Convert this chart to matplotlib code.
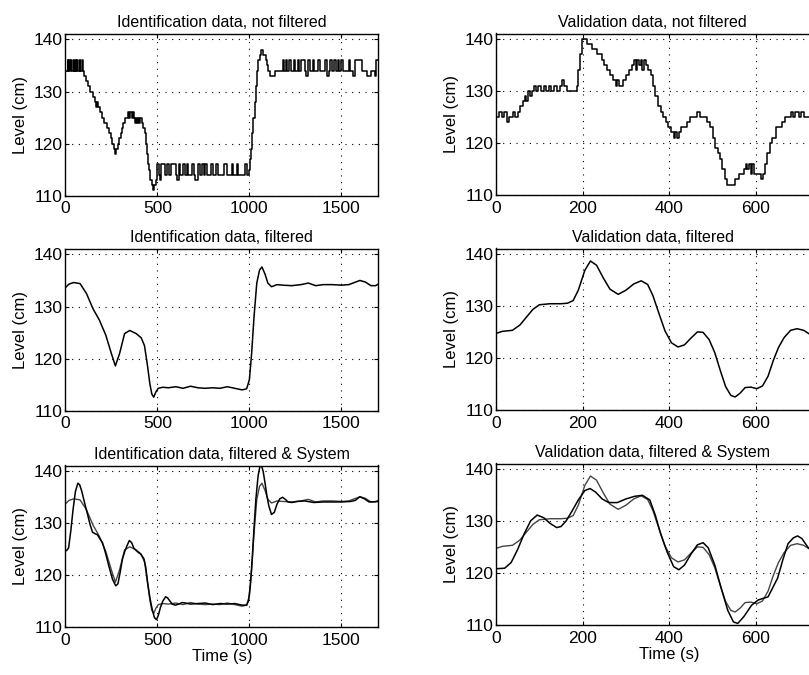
import numpy as np
import matplotlib
matplotlib.use('Agg')
import matplotlib.pyplot as plt

plt.rcParams['font.family'] = ['Liberation Sans', 'DejaVu Sans']

# --- Identification data, not filtered (quantised level, step breakpoints) ---
id_raw_t = [0, 12, 16, 22, 26, 33, 38, 45, 49, 56, 60, 66, 70, 78, 82, 90, 98,
            104, 112, 122, 135, 148, 160, 166, 172, 178, 190, 200, 212, 226, 238, 248,
            256, 263, 268, 276, 284, 292, 300, 308, 316, 326, 340, 346, 352, 360, 366,
            372, 380, 384, 390, 396, 402, 408, 414, 424, 432, 438, 444, 450, 456, 462,
            470, 476, 484, 490, 496,
            500, 510, 515, 520, 522, 540, 555, 562, 575, 600, 606, 615, 625, 640, 650,
            660, 668, 690, 700, 706, 720, 732, 745, 752, 760, 770, 790, 800, 820, 830,
            860, 880, 905, 912, 930, 940, 975, 985,
            998, 1004, 1010, 1016, 1022, 1028, 1034, 1040, 1048, 1056, 1064, 1076, 1088,
            1096, 1102, 1110, 1140, 1180, 1188, 1196, 1204, 1215, 1225, 1240, 1250, 1262,
            1270, 1280, 1300, 1310, 1318, 1320, 1330, 1345, 1352, 1375, 1385, 1410, 1420,
            1430, 1440, 1450, 1462, 1468, 1480, 1488, 1500, 1510, 1540, 1548, 1565, 1572,
            1575, 1610, 1640, 1660, 1680, 1690, 1700]
id_raw_y = [134, 136, 134, 136, 134, 136, 134, 136, 134, 136, 134, 136, 134, 136, 134, 136, 134,
            133, 132, 131, 130, 129, 128, 127, 128, 127, 126, 125, 124, 123, 122, 121,
            120, 119, 118, 119, 120, 121, 122, 123, 124, 125, 126, 125, 126, 125, 126,
            125, 124, 125, 124, 125, 124, 125, 124, 123, 122, 120, 118, 116, 115, 113,
            112, 111, 112, 113, 114,
            116, 114, 113, 114, 116, 114, 116, 114, 116, 114, 113, 116, 114, 116, 114,
            116, 114, 116, 114, 113, 116, 114, 116, 114, 116, 114, 116, 114, 116, 114,
            116, 114, 116, 114, 116, 114, 116, 114,
            115, 117, 119, 122, 125, 128, 131, 134, 136, 137, 138, 137, 136,
            135, 134, 133, 134, 136, 134, 136, 134, 136, 134, 136, 134, 136,
            134, 136, 134, 133, 134, 136, 134, 136, 134, 136, 134, 136, 133,
            134, 136, 134, 136, 134, 136, 134, 136, 134, 136, 134, 133, 134,
            136, 134, 133, 134, 133, 136, 136]

# --- Identification data, filtered ---
id_filt_t = [0, 20, 45, 80, 115, 150, 185, 220, 250, 272, 295, 322, 350, 385, 412, 430,
             445, 460, 470, 480, 492, 505, 530, 560, 600, 640, 680, 720, 760, 800, 840,
             880, 920, 960, 985, 1000, 1012, 1025, 1040, 1055, 1068, 1085, 1100, 1120,
             1150, 1180, 1230, 1280, 1320, 1360, 1400, 1450, 1500, 1540, 1570, 1600, 1630,
             1660, 1685, 1700]
id_filt_y = [133.6, 134.3, 134.6, 134.4, 132.5, 129.6, 127.4, 124.5, 121.0, 118.6, 121.0,
             124.8, 125.4, 124.8, 124.0, 122.5, 119.0, 115.0, 113.2, 112.6, 113.6, 114.3,
             114.5, 114.4, 114.6, 114.3, 114.7, 114.4, 114.3, 114.4, 114.3, 114.6, 114.3,
             114.0, 114.2, 116.0, 121.0, 128.0, 134.5, 137.0, 137.6, 136.2, 134.5, 133.8,
             134.2, 134.1, 134.0, 134.2, 134.5, 134.0, 134.2, 134.2, 134.1, 134.2, 134.6,
             135.0, 134.7, 134.0, 134.0, 134.3]

# --- Identification, system output ---
id_sys_t = [0, 8, 18, 30, 42, 55, 68, 78, 90, 105, 121, 135, 148, 162, 175, 190, 202, 220,
            238, 256, 274, 286, 298, 310, 322, 335, 348, 360, 373, 390, 409, 427, 437, 447,
            460, 472, 484, 495, 505, 517, 530, 545, 555, 568, 580, 598, 616, 635, 652, 680,
            720, 760, 800, 840, 880, 920, 960, 985, 995, 1005, 1015, 1025, 1035, 1047, 1057,
            1065, 1075, 1085, 1095, 1105, 1120, 1135, 1150, 1165, 1180, 1195, 1210, 1230,
            1260, 1300, 1350, 1400, 1450, 1500, 1550, 1575, 1600, 1625, 1650, 1700]
id_sys_y = [124.6, 124.7, 125.2, 128.5, 132.5, 136.0, 137.6, 137.3, 136.0, 133.8, 131.6,
            129.6, 128.2, 127.9, 127.7, 126.8, 126.2, 124.0, 121.5, 119.2, 117.9, 118.3,
            120.5, 123.0, 124.4, 125.6, 126.6, 126.2, 125.1, 124.5, 124.0, 123.1, 121.5,
            118.5, 115.5, 113.4, 111.8, 111.4, 112.2, 113.8, 115.0, 115.8, 115.6, 115.0,
            114.4, 114.2, 114.4, 114.7, 114.6, 114.4, 114.5, 114.6, 114.3, 114.5, 114.4,
            114.5, 114.2, 114.2, 115.0, 118.0, 123.0, 129.0, 134.5, 139.0, 140.8, 141.1,
            139.8, 137.6, 135.2, 133.3, 131.6, 132.0, 133.6, 134.6, 134.9, 134.5, 134.0,
            133.9, 134.1, 134.2, 133.9, 134.0, 134.0, 134.0, 134.1, 134.3, 135.0, 134.6,
            134.0, 134.1]

# --- Validation data, not filtered (quantised level, step breakpoints) ---
val_raw_t = [0, 8, 14, 18, 25, 29, 40, 44, 50, 56, 62, 66, 70, 74, 78, 82, 88, 92, 98,
             104, 110, 116, 122, 126, 134, 140, 148, 152, 158, 164, 186, 190, 194, 198,
             210, 222, 234, 244, 250, 256, 262, 270, 276, 280, 285, 292, 300, 308, 314,
             318, 322, 326, 330, 334, 338, 342, 346, 350, 358, 362, 368, 374, 380, 386,
             392, 398, 404, 410, 414, 418, 422, 428, 440, 448, 465, 470, 486, 494, 500,
             506, 512, 518, 522, 528, 534, 552, 562, 572, 576, 580, 584, 588, 592, 596,
             612, 616, 620, 626, 632, 638, 646, 660, 668, 680, 686, 690, 700, 704, 710, 740]
val_raw_y = [125, 126, 125, 126, 124, 125, 126, 125, 126, 127, 128, 129, 128, 130, 129,
             130, 131, 130, 131, 130, 131, 130, 131, 130, 131, 130, 131, 132, 131, 130,
             131, 134, 137, 140, 139, 138, 137, 136, 135, 134, 133, 132, 131, 132, 131,
             132, 133, 134, 135, 136, 134, 136, 135, 136, 134, 136, 135, 134, 133, 131,
             129, 127, 126, 125, 124, 123, 122, 121, 122, 121, 122, 123, 124, 125, 126,
             125, 124, 123, 121, 119, 118, 117, 115, 113, 112, 113, 114, 115, 116, 115,
             116, 114, 116, 114, 113, 114, 116, 118, 120, 121, 123, 124, 125, 126, 125,
             126, 125, 126, 125, 125]

# --- Validation data, filtered ---
val_filt_t = [0, 15, 38, 55, 71, 85, 100, 125, 150, 165, 178, 190, 205, 218, 232, 248, 263,
              282, 300, 318, 335, 350, 362, 375, 390, 405, 420, 435, 450, 465, 478, 492,
              505, 518, 530, 542, 552, 563, 575, 588, 602, 615, 628, 640, 652, 665, 680,
              695, 710, 725, 740]
val_filt_y = [124.7, 125.1, 125.3, 126.3, 127.9, 129.3, 130.2, 130.4, 130.4, 130.5, 131.0,
              133.0, 136.8, 138.6, 137.8, 135.3, 133.2, 132.2, 133.0, 134.2, 134.8, 134.1,
              132.0, 128.8, 125.2, 122.9, 122.1, 122.5, 123.8, 125.0, 124.9, 123.5, 121.0,
              117.5, 114.5, 112.8, 112.5, 113.2, 114.3, 114.4, 114.1, 114.6, 116.5, 119.5,
              122.0, 123.9, 125.3, 125.6, 125.3, 124.5, 124.0]

# --- Validation, system output ---
val_sys_t = [0, 20, 35, 50, 65, 80, 95, 110, 125, 140, 150, 162, 175, 190, 205, 217, 230,
             245, 260, 280, 300, 320, 338, 355, 368, 380, 395, 410, 422, 435, 450, 465, 478,
             490, 505, 520, 535, 548, 558, 572, 590, 605, 628, 650, 662, 674, 686, 696, 706,
             721, 740]
val_sys_y = [120.8, 120.9, 122.0, 124.5, 127.5, 130.0, 131.1, 130.6, 129.5, 128.7, 128.9,
             130.0, 131.8, 134.0, 135.8, 136.2, 135.5, 134.2, 133.5, 133.5, 134.2, 134.7,
             134.9, 134.0, 131.0, 127.5, 124.0, 121.2, 120.6, 121.5, 123.6, 125.4, 125.8,
             124.8, 121.5, 117.0, 112.8, 110.6, 110.3, 111.6, 113.8, 114.8, 115.4, 119.0,
             122.5, 125.6, 126.7, 127.1, 126.6, 124.8, 124.0]

Y_TICKS = [110, 120, 130, 140]
ID_XTICKS = [0, 500, 1000, 1500]
VAL_XTICKS = [0, 200, 400, 600]

W, H = 809, 675
fig = plt.figure(figsize=(W / 100, H / 100), dpi=100)
fig.patch.set_facecolor('white')

LEFT_X, LEFT_W = 65.3 / W, 313 / W
RIGHT_X, RIGHT_W = 496 / W, 346.6 / W
bottoms_l = [1 - 195.7 / H, 1 - 410.7 / H, 1 - 627 / H]
bottoms_r = [1 - 195 / H, 1 - 410 / H, 1 - 625 / H]
AX_H = 161.5 / H


def style_axes(ax, xlim, xticks, title, xlabel=None):
    ax.set_xlim(*xlim)
    ax.set_ylim(110, 141)
    ax.set_xticks(xticks)
    ax.set_yticks(Y_TICKS)
    ax.grid(True, color='black', linestyle=(0, (1, 5)), linewidth=0.8)
    ax.set_axisbelow(True)
    ax.tick_params(direction='in', length=3, labelsize=12.5, top=True, right=True,
                   width=0.8)
    ax.tick_params(axis='x', pad=4)
    ax.tick_params(axis='y', pad=2)
    for s in ax.spines.values():
        s.set_linewidth(1.0)
        s.set_color('black')
    ax.set_title(title, fontsize=11.5, pad=5)
    ax.set_ylabel('Level (cm)', fontsize=12, labelpad=4)
    if xlabel:
        ax.set_xlabel(xlabel, fontsize=12, labelpad=1)


LW = 1.1

# left column
ax = fig.add_axes([LEFT_X, bottoms_l[0], LEFT_W, AX_H])
ax.step(id_raw_t, id_raw_y, where='post', color='black', lw=LW)
style_axes(ax, (0, 1700), ID_XTICKS, 'Identification data, not filtered')

ax = fig.add_axes([LEFT_X, bottoms_l[1], LEFT_W, AX_H])
ax.plot(id_filt_t, id_filt_y, color='black', lw=LW)
style_axes(ax, (0, 1700), ID_XTICKS, 'Identification data, filtered')

ax = fig.add_axes([LEFT_X, bottoms_l[2], LEFT_W, AX_H])
ax.plot(id_filt_t, id_filt_y, color='#444444', lw=1.0)
ax.plot(id_sys_t, id_sys_y, color='black', lw=LW)
style_axes(ax, (0, 1700), ID_XTICKS, 'Identification data, filtered & System', 'Time (s)')

# right column (runs past the right edge of the page)
ax = fig.add_axes([RIGHT_X, bottoms_r[0], RIGHT_W, AX_H])
ax.step(val_raw_t, val_raw_y, where='post', color='black', lw=LW)
style_axes(ax, (0, 800), VAL_XTICKS, 'Validation data, not filtered')

ax = fig.add_axes([RIGHT_X, bottoms_r[1], RIGHT_W, AX_H])
ax.plot(val_filt_t, val_filt_y, color='black', lw=LW)
style_axes(ax, (0, 800), VAL_XTICKS, 'Validation data, filtered')

ax = fig.add_axes([RIGHT_X, bottoms_r[2], RIGHT_W, AX_H])
ax.plot(val_filt_t, val_filt_y, color='#444444', lw=1.0)
ax.plot(val_sys_t, val_sys_y, color='black', lw=LW)
style_axes(ax, (0, 800), VAL_XTICKS, 'Validation data, filtered & System', 'Time (s)')

# titles of the right column are centred on the visible part of the axes
for a in fig.axes[3:]:
    a.title.set_position((313 / 346.6 / 2, 1.0))

fig.savefig('out.png', dpi=100, facecolor='white')
